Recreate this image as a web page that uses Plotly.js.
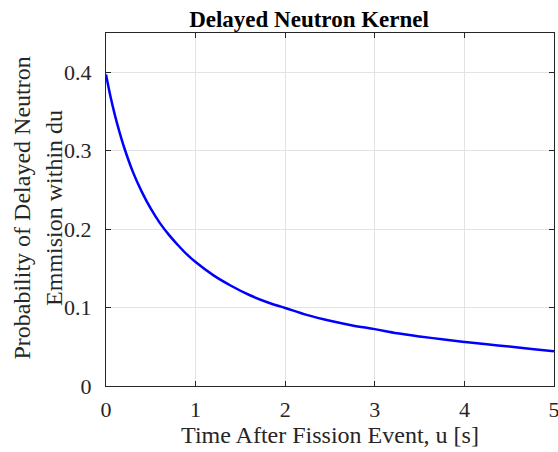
<!DOCTYPE html>
<html>
<head>
<meta charset="utf-8">
<script src="https://cdn.plot.ly/plotly-3.0.1.min.js"></script>
<style>html,body{margin:0;padding:0;background:#fff;}#chart{width:558px;height:452px;}</style>
</head>
<body>
<div id="chart"></div>
<script>
// Time after fission event u [s]
const timeU = [0, 0.05, 0.1, 0.15, 0.2, 0.3, 0.4, 0.5, 0.6, 0.7, 0.8, 0.9, 1.0, 1.2, 1.4, 1.6, 1.8, 2.0, 2.25, 2.5, 2.75, 3.0, 3.25, 3.5, 3.75, 4.0, 4.25, 4.5, 4.75, 5.0];
// Probability of delayed neutron emission within du
const probability = [0.397, 0.369, 0.345, 0.324, 0.305, 0.273, 0.2475, 0.226, 0.208, 0.193, 0.180, 0.168, 0.158, 0.141, 0.1275, 0.116, 0.1068, 0.0995, 0.0903, 0.0831, 0.0772, 0.0725, 0.0673, 0.0632, 0.0596, 0.0562, 0.0532, 0.0503, 0.0473, 0.0444];
const xTicks = [0, 1, 2, 3, 4, 5];
const yTicks = [0, 0.1, 0.2, 0.3, 0.4];
const yTickLabels = ['0', '0.1', '0.2', '0.3', '0.4'];

const font = 'Liberation Serif, Times New Roman, serif';
const data = [{
  x: timeU, y: probability, type: 'scatter', mode: 'lines',
  line: {color: '#0000ff', width: 2.5, shape: 'spline'}
}];
const axisCommon = {
  showline: true, linecolor: '#262626', linewidth: 1, mirror: 'allticks',
  ticks: 'inside', ticklen: 5, tickcolor: '#262626',
  showgrid: true, gridcolor: '#e3e3e3', gridwidth: 1, zeroline: false,
  ticklabeloverflow: 'allow',
  tickfont: {family: font, size: 22, color: '#262626'}
};
const layout = {
  width: 558, height: 452,
  margin: {l: 106, r: 4, t: 33, b: 66},
  paper_bgcolor: '#fff', plot_bgcolor: '#fff',
  showlegend: false,
  title: {text: '<b>Delayed Neutron Kernel</b>', font: {family: font, size: 23, color: '#000'}, xref: 'container', x: 0.5538, xanchor: 'center', yref: 'container', y: 0.975, yanchor: 'top'},
  xaxis: Object.assign({}, axisCommon, {
    range: [0, 5], tickvals: xTicks, ticktext: xTicks.map(String),
    ticklabelstandoff: 4,
    title: {text: 'Time After Fission Event, u [s]', font: {family: font, size: 24, color: '#262626'}, standoff: 2}
  }),
  yaxis: Object.assign({}, axisCommon, {
    range: [0, 0.45], tickvals: yTicks, ticktext: yTickLabels,
    ticklabelstandoff: 9
  }),
  annotations: [{
    text: 'Probability of Delayed Neutron<br>Emmision within du',
    xref: 'paper', yref: 'paper', x: -0.153, y: 0.504,
    xanchor: 'center', yanchor: 'middle', textangle: -90, showarrow: false,
    font: {family: font, size: 24, color: '#262626'}
  }]
};
Plotly.newPlot('chart', data, layout, {displayModeBar: false, staticPlot: true});
</script>
</body>
</html>
